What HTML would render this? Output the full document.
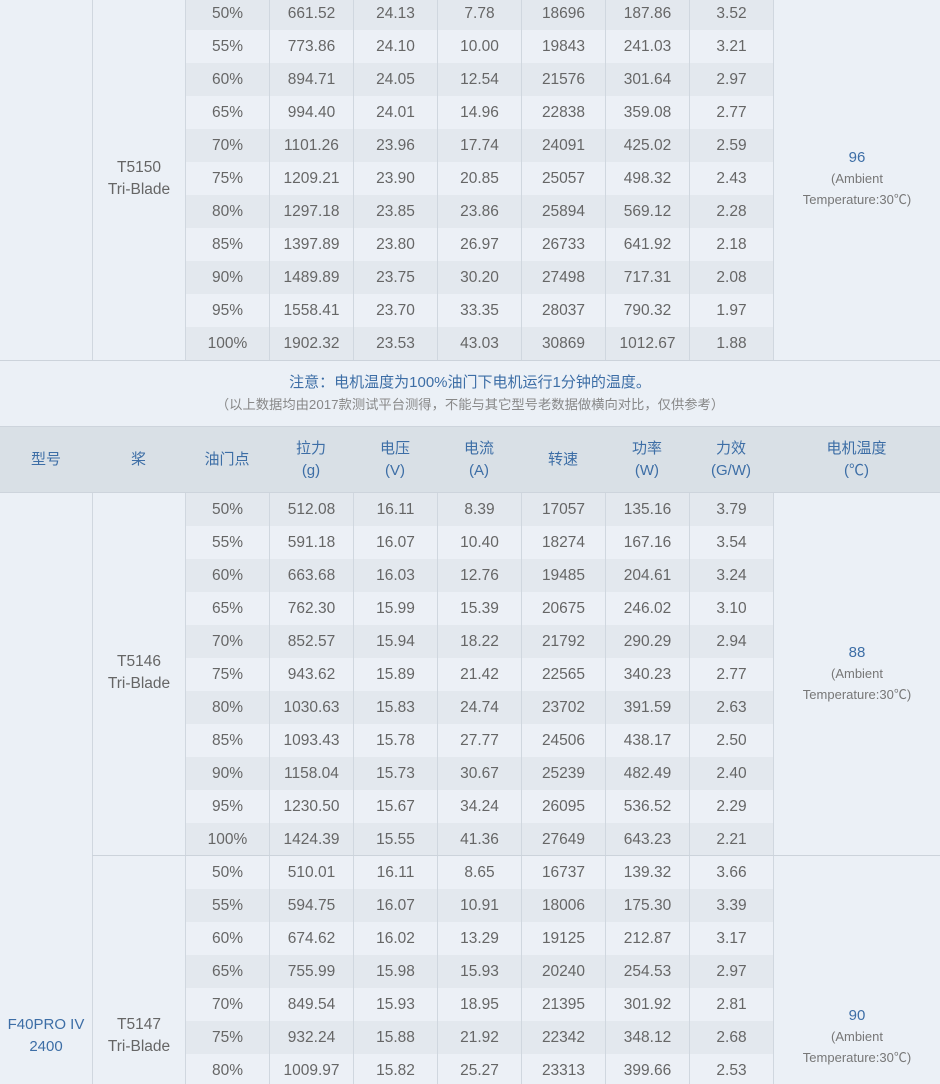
<!DOCTYPE html>
<html>
<head>
<meta charset="utf-8">
<style>
*{box-sizing:border-box;margin:0;padding:0}
html,body{width:940px;height:1084px;overflow:hidden;background:#ebf0f6}
body{position:relative;font-family:"Liberation Sans","Noto Sans CJK SC",sans-serif;color:#666;font-size:15px}
.r{position:absolute;left:185px;width:588px;height:33px;display:flex;background:#ecf0f6;font-size:15.5px}
.r.d{background:#e3e8ee}
.r span{display:block;width:84px;height:33px;line-height:33px;text-align:center;border-left:1px solid #d0d7df}
.c{position:absolute;border-left:1px solid #d0d7df;text-align:center;background:#ebf0f6}
.m{position:absolute;text-align:center;background:#ebf0f6}
.t{position:absolute;left:0;width:100%;text-align:center}
.p{font-size:15.5px}
.hl{position:absolute;height:1px;background:#ccd3db}
.hd{position:absolute;left:0;top:426px;width:940px;height:67px;background:#d9e0e6;border-top:1px solid #cdd4dc;border-bottom:1px solid #cdd4dc}
.hc{position:absolute;top:0;height:65px;display:flex;align-items:center;justify-content:center;text-align:center;color:#3d6ea6;font-size:15px;line-height:22px}
.blue{color:#3d6ea6}
.sm{font-size:13px;color:#777}
</style>
</head>
<body>

<!-- Section 1 span cells -->
<div class="m" style="left:0;top:-3px;width:92px;height:363px"></div>
<div class="c" style="left:92px;top:-3px;width:93px;height:363px">
  <div class="t p" style="top:160px;line-height:22px">T5150<br>Tri-Blade</div>
</div>
<div class="c" style="left:773px;top:-3px;width:167px;height:363px">
  <div class="t" style="top:150px;line-height:21px"><span class="blue" style="font-size:15px">96</span><br><span class="sm">(Ambient<br>Temperature:30℃)</span></div>
</div>

<!-- Section 1 rows -->
<div class="r d" style="top:-3px"><span>50%</span><span>661.52</span><span>24.13</span><span>7.78</span><span>18696</span><span>187.86</span><span>3.52</span></div>
<div class="r" style="top:30px"><span>55%</span><span>773.86</span><span>24.10</span><span>10.00</span><span>19843</span><span>241.03</span><span>3.21</span></div>
<div class="r d" style="top:63px"><span>60%</span><span>894.71</span><span>24.05</span><span>12.54</span><span>21576</span><span>301.64</span><span>2.97</span></div>
<div class="r" style="top:96px"><span>65%</span><span>994.40</span><span>24.01</span><span>14.96</span><span>22838</span><span>359.08</span><span>2.77</span></div>
<div class="r d" style="top:129px"><span>70%</span><span>1101.26</span><span>23.96</span><span>17.74</span><span>24091</span><span>425.02</span><span>2.59</span></div>
<div class="r" style="top:162px"><span>75%</span><span>1209.21</span><span>23.90</span><span>20.85</span><span>25057</span><span>498.32</span><span>2.43</span></div>
<div class="r d" style="top:195px"><span>80%</span><span>1297.18</span><span>23.85</span><span>23.86</span><span>25894</span><span>569.12</span><span>2.28</span></div>
<div class="r" style="top:228px"><span>85%</span><span>1397.89</span><span>23.80</span><span>26.97</span><span>26733</span><span>641.92</span><span>2.18</span></div>
<div class="r d" style="top:261px"><span>90%</span><span>1489.89</span><span>23.75</span><span>30.20</span><span>27498</span><span>717.31</span><span>2.08</span></div>
<div class="r" style="top:294px"><span>95%</span><span>1558.41</span><span>23.70</span><span>33.35</span><span>28037</span><span>790.32</span><span>1.97</span></div>
<div class="r d" style="top:327px"><span>100%</span><span>1902.32</span><span>23.53</span><span>43.03</span><span>30869</span><span>1012.67</span><span>1.88</span></div>

<div class="hl" style="left:0;top:360px;width:940px"></div>

<!-- Note -->
<div class="t" style="top:372px;line-height:22px;font-size:15px;color:#3d6ea6">注意：电机温度为100%油门下电机运行1分钟的温度。</div>
<div class="t" style="top:395px;line-height:20px;font-size:13.3px;color:#888">（以上数据均由2017款测试平台测得，不能与其它型号老数据做横向对比，仅供参考）</div>

<!-- Header -->
<div class="hd">
  <div class="hc" style="left:0;width:92px">型号</div>
  <div class="hc" style="left:92px;width:93px">桨</div>
  <div class="hc" style="left:185px;width:84px">油门点</div>
  <div class="hc" style="left:269px;width:84px">拉力<br>(g)</div>
  <div class="hc" style="left:353px;width:84px">电压<br>(V)</div>
  <div class="hc" style="left:437px;width:84px">电流<br>(A)</div>
  <div class="hc" style="left:521px;width:84px">转速</div>
  <div class="hc" style="left:605px;width:84px">功率<br>(W)</div>
  <div class="hc" style="left:689px;width:84px">力效<br>(G/W)</div>
  <div class="hc" style="left:773px;width:167px">电机温度<br>(℃)</div>
</div>

<!-- Section 2 span cells -->
<div class="m" style="left:0;top:493px;width:92px;height:600px">
  <div class="t blue" style="top:521px;line-height:22px">F40PRO IV<br>2400</div>
</div>
<div class="c" style="left:92px;top:493px;width:93px;height:363px">
  <div class="t p" style="top:158px;line-height:22px">T5146<br>Tri-Blade</div>
</div>
<div class="c" style="left:773px;top:493px;width:167px;height:363px">
  <div class="t" style="top:149px;line-height:21px"><span class="blue">88</span><br><span class="sm">(Ambient<br>Temperature:30℃)</span></div>
</div>
<div class="c" style="left:92px;top:856px;width:93px;height:240px">
  <div class="t p" style="top:158px;line-height:22px">T5147<br>Tri-Blade</div>
</div>
<div class="c" style="left:773px;top:856px;width:167px;height:240px">
  <div class="t" style="top:149px;line-height:21px"><span class="blue">90</span><br><span class="sm">(Ambient<br>Temperature:30℃)</span></div>
</div>

<!-- Section 2 rows: T5146 -->
<div class="r d" style="top:493px"><span>50%</span><span>512.08</span><span>16.11</span><span>8.39</span><span>17057</span><span>135.16</span><span>3.79</span></div>
<div class="r" style="top:526px"><span>55%</span><span>591.18</span><span>16.07</span><span>10.40</span><span>18274</span><span>167.16</span><span>3.54</span></div>
<div class="r d" style="top:559px"><span>60%</span><span>663.68</span><span>16.03</span><span>12.76</span><span>19485</span><span>204.61</span><span>3.24</span></div>
<div class="r" style="top:592px"><span>65%</span><span>762.30</span><span>15.99</span><span>15.39</span><span>20675</span><span>246.02</span><span>3.10</span></div>
<div class="r d" style="top:625px"><span>70%</span><span>852.57</span><span>15.94</span><span>18.22</span><span>21792</span><span>290.29</span><span>2.94</span></div>
<div class="r" style="top:658px"><span>75%</span><span>943.62</span><span>15.89</span><span>21.42</span><span>22565</span><span>340.23</span><span>2.77</span></div>
<div class="r d" style="top:691px"><span>80%</span><span>1030.63</span><span>15.83</span><span>24.74</span><span>23702</span><span>391.59</span><span>2.63</span></div>
<div class="r" style="top:724px"><span>85%</span><span>1093.43</span><span>15.78</span><span>27.77</span><span>24506</span><span>438.17</span><span>2.50</span></div>
<div class="r d" style="top:757px"><span>90%</span><span>1158.04</span><span>15.73</span><span>30.67</span><span>25239</span><span>482.49</span><span>2.40</span></div>
<div class="r" style="top:790px"><span>95%</span><span>1230.50</span><span>15.67</span><span>34.24</span><span>26095</span><span>536.52</span><span>2.29</span></div>
<div class="r d" style="top:823px"><span>100%</span><span>1424.39</span><span>15.55</span><span>41.36</span><span>27649</span><span>643.23</span><span>2.21</span></div>

<!-- T5147 -->
<div class="r" style="top:856px"><span>50%</span><span>510.01</span><span>16.11</span><span>8.65</span><span>16737</span><span>139.32</span><span>3.66</span></div>
<div class="r d" style="top:889px"><span>55%</span><span>594.75</span><span>16.07</span><span>10.91</span><span>18006</span><span>175.30</span><span>3.39</span></div>
<div class="r" style="top:922px"><span>60%</span><span>674.62</span><span>16.02</span><span>13.29</span><span>19125</span><span>212.87</span><span>3.17</span></div>
<div class="r d" style="top:955px"><span>65%</span><span>755.99</span><span>15.98</span><span>15.93</span><span>20240</span><span>254.53</span><span>2.97</span></div>
<div class="r" style="top:988px"><span>70%</span><span>849.54</span><span>15.93</span><span>18.95</span><span>21395</span><span>301.92</span><span>2.81</span></div>
<div class="r d" style="top:1021px"><span>75%</span><span>932.24</span><span>15.88</span><span>21.92</span><span>22342</span><span>348.12</span><span>2.68</span></div>
<div class="r" style="top:1054px"><span>80%</span><span>1009.97</span><span>15.82</span><span>25.27</span><span>23313</span><span>399.66</span><span>2.53</span></div>

<div class="hl" style="left:92px;top:855px;width:848px"></div>

</body>
</html>
